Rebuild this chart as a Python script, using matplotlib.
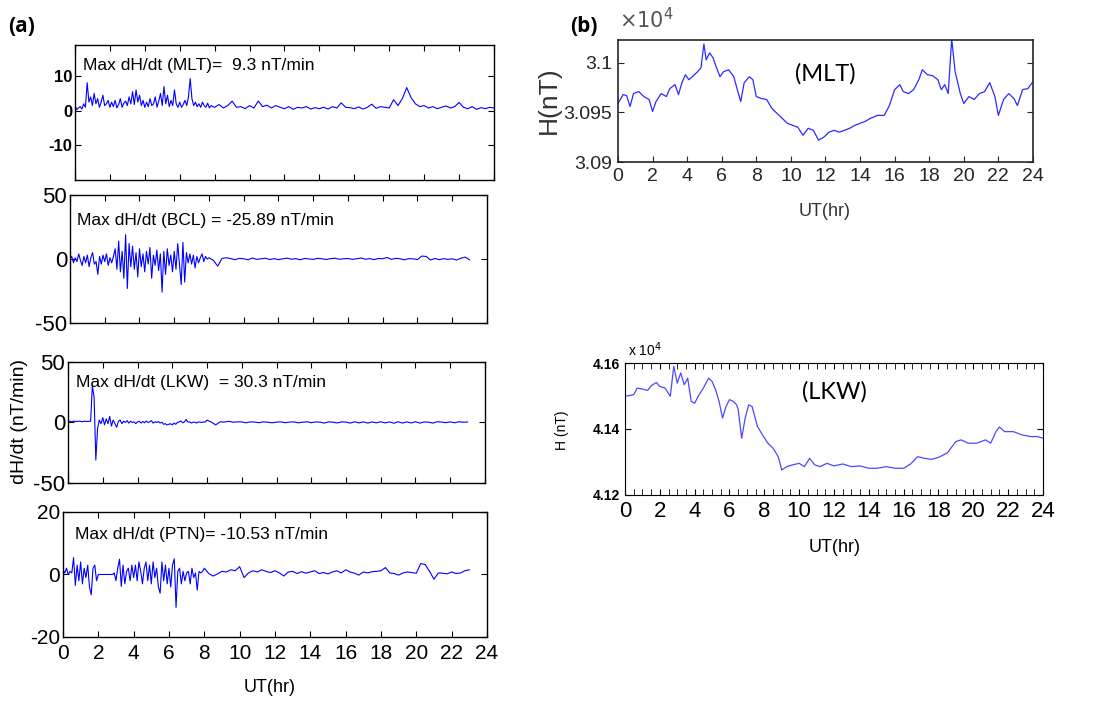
import numpy as np
import matplotlib
matplotlib.use("Agg")
import matplotlib.pyplot as plt
from matplotlib.ticker import FixedLocator, MultipleLocator

plt.rcParams["font.family"] = ["Liberation Sans", "DejaVu Sans"]
plt.rcParams["axes.unicode_minus"] = False

# time grids (hours): 0.1 h through the active part, 0.25 h after 8 UT
t_fine = np.round(np.arange(0, 8, 0.1), 2)
t_tail24 = np.arange(8, 24.01, 0.25)
t_tail23 = np.arange(8, 23.01, 0.25)

# (a) dH/dt, nT/min
mlt_dhdt = [1.5, 0.3, 0.8, 1.2, 0.5, 2.0, 1.0, 8.1, 2.5, 4.0,
            1.5, 5.0, 2.0, 3.5, 1.0, 2.5, 4.5, 1.5, 2.0, 3.0,
            1.0, 2.5, 1.2, 3.0, 0.8, 1.8, 3.5, 1.0, 2.2, 2.8,
            1.5, 4.0, 2.0, 5.5, 1.8, 6.0, 2.5, 4.5, 1.5, 3.0,
            1.0, 2.5, 1.2, 3.5, 1.5, 2.0, 4.0, 1.0, 2.8, 5.0,
            1.5, 7.0, 2.0, 4.5, 1.2, 3.0, 1.5, 6.0, 2.0, 1.0,
            2.5, 1.0, 1.8, 3.0, 1.5, 4.0, 9.3, 3.5, 1.5, 2.5,
            1.2, 2.0, 1.0, 2.5, 1.5, 1.0, 2.2, 0.8, 1.5, 1.2,
            1.0, 1.8, 0.8, 1.5, 2.8, 1.0, 1.2, 0.6,
            1.5, 0.8, 2.8, 1.2, 1.6, 0.8, 1.5, 1.0,
            0.6, 1.2, 0.4, 1.0, 0.8, 1.2, 0.5, 0.9,
            0.6, 1.0, 0.5, 1.2, 0.8, 2.3, 1.0, 0.9,
            0.6, 1.1, 0.5, 1.0, 1.9, 0.7, 1.2, 1.0,
            0.8, 3.2, 1.5, 3.5, 6.7, 3.8, 2.0, 1.2,
            1.5, 0.8, 1.2, 0.6, 1.0, 1.4, 0.8, 1.2,
            2.4, 1.0, 0.6, 1.2, 0.4, 0.9, 0.6, 1.0,
            0.8]

bcl_dhdt = [0, 2, -3, 1, -2, 4, -1, -5, 2, -3,
            3, -6, 1, 5, -4, -2, -12, 2, -4, 3,
            -2, 4, -5, 1, -3, 2, 8, -8, 14, -10,
            6, -15, 19, -23, 12, -6, 10, -8, 5, -14,
            8, -6, 4, -10, 6, -4, 9, -15, 3, -5,
            7, -9, 4, -25.89, 6, -12, 8, -5, 3, -10,
            6, -8, 12, -4, -20, 13, -18, 5, -3, 4,
            -4, 3, -7, 2, -3, 1, 4, -2, 2, 0,
            1, -1, -5.6, 0.5, 1, 0.3, -0.5, 0.5,
            0.2, -0.6, 0.8, -0.3, 0.2, 0.6, -0.4, 0.3,
            -0.5, 0.2, 0.7, -0.2, 0.3, -0.6, 0.4, 0.1,
            -0.3, 0.5, 0.2, -0.4, 0.3, 0.6, -0.2, 0.2,
            0.4, -0.3, 0.2, 0.8, -0.2, 0.3, -0.5, 0.4,
            0.2, 1.2, -0.3, 0.5, 0.2, -0.6, 0.3, 0.1,
            -0.4, 2.3, 2.0, -0.8, 0.4, -0.5, 0.3, -0.3,
            0.2, -0.8, 0.6, 1.5,
            -0.6]

lkw_dhdt = [1, 1, 0.5, 1, 1, 0.8, 1, 1, 0.5, 1,
            1, 0.8, 1, 1, 30.3, 21, -31, -5, 2, -1,
            4, -2, 3, -1, 5, -3, 2, -1, -4, 1,
            2, -1, 1, 0, 1.5, -0.5, 1, 0, 0.5, -1,
            0.5, 1, -0.5, 0.8, -0.3, 1.2, 0, 0.5, 1.5, -0.5,
            0.5, 0, 0.8, -0.5, 0.2, -1.5, -1, -2, -1.5, -1,
            -2, -0.5, -1.5, 0, 0.5, 1.2, -0.3, 0.5, 2.5, 0.3,
            0.5, -0.5, 0.3, 0.2, -0.5, 0.5, 0.2, 0, 0.5, 0.3,
            2, 0.3, -2, 0.5, 0.3, 1, 0.2, 0.5,
            0.5, -0.3, 0.5, 0.3, -0.2, 0.5, 0.2, -0.3,
            0.3, 0.5, -0.2, 0.3, 0.5, -0.3, 0.2, 0.6,
            -0.2, 0.4, 0.3, -0.5, 0.5, 0.2, -0.4, 0.5,
            0.3, -0.5, 0.6, -0.4, 0.5, -0.5, 0.4, -0.3,
            0.6, -0.4, 0.5, -0.6, 0.6, -0.5, 0.5, -0.4,
            0.6, -0.5, 0.4, 0.2, -0.5, 0.6, 0.3, -0.2,
            0.5, -0.3, 0.6, 0.2,
            0.4]

ptn_dhdt = [1.5, 0.5, 2, 0, 1, 0.5, 5.4, -3.5, 3, -2,
            4, -3, 2, -1, 3, -4, -6.5, 2, 3, -2,
            0, 0, 0, 0, 0, 0, 0, 0, 0, 0.5,
            -2, 2, 4.9, -3.8, 3, -3, 1, 2, -2, 3,
            -1, 3, -2, 4, 1, -3, 2, 4, -2, 3,
            -3, 4, -1, 2, -4, -6, 4, -2, 3, -3,
            2, -4, 3, 5, -10.53, 1, 2, -3, 1, -2,
            0.5, 1, -3, 2, -1, 0.5, -5, 1, 0.5, 1,
            2, 0.3, -0.5, 0.2, 1, 0.8, 1.5, 1.2,
            2.5, -1, 0.5, 1.2, 0.8, 1.5, 1.0, 0.6,
            1.2, 0.5, -0.5, 0.8, 1.0, 0.3, 0.9, 0.4,
            0.8, 1.2, 0.3, 0.6, 0.2, 0.8, 1.2, 0.5,
            1.5, 0.8, 0.4, -0.2, 0.8, 0.5, 0.9, 1.0,
            1.2, 2.2, 0.5, 0.3, -0.2, 0.5, 0.8, 0.6,
            0.4, 3.5, 3.2, 1.0, -1.5, 0.5, 0.4, 0.2,
            0.8, 0.3, 0.5, 1.2,
            1.5]

# (b) H component, nT
mlt_h_t = [0, 0.3, 0.5, 0.7, 0.9, 1.2, 1.5, 1.8, 2.0, 2.2, 2.5, 2.8, 3.0, 3.3,
           3.5, 3.7, 3.9, 4.1, 4.3, 4.6, 4.8, 4.97, 5.1, 5.3, 5.5, 5.7, 5.9,
           6.1, 6.4, 6.7, 6.9, 7.1, 7.3, 7.6, 7.8, 8.0, 8.3, 8.6, 8.9, 9.2,
           9.5, 9.8, 10.1, 10.4, 10.7, 11.0, 11.3, 11.6, 11.9, 12.2, 12.5,
           12.8, 13.1, 13.4, 13.7, 14.0, 14.3, 14.6, 15.0, 15.4, 15.7, 16.0,
           16.3, 16.5, 16.8, 17.1, 17.4, 17.6, 17.9, 18.2, 18.5, 18.7, 18.9,
           19.1, 19.3, 19.5, 19.8, 20.0, 20.3, 20.6, 20.9, 21.2, 21.5, 21.8,
           22.0, 22.3, 22.6, 22.9, 23.1, 23.4, 23.7, 24.0]
mlt_h = [30959, 30968, 30967, 30956, 30969, 30971, 30966, 30963, 30951,
         30961, 30969, 30966, 30974, 30978, 30968, 30980, 30988, 30983,
         30986, 30991, 30995, 31019, 31003, 31010, 31005, 30995, 30986,
         30991, 30993, 30986, 30973, 30961, 30980, 30986, 30983, 30966,
         30964, 30963, 30954, 30949, 30944, 30939, 30937, 30935, 30927,
         30934, 30932, 30922, 30925, 30930, 30932, 30930, 30932, 30934,
         30937, 30939, 30941, 30944, 30947, 30947, 30957, 30973, 30978,
         30971, 30969, 30973, 30983, 30993, 30988, 30987, 30983, 30973,
         30978, 30969, 31024, 30991, 30969, 30959, 30966, 30963, 30969,
         30971, 30980, 30966, 30947, 30963, 30969, 30964, 30957, 30973,
         30974, 30981]

lkw_h_t = [0, 0.5, 0.7, 1.0, 1.3, 1.5, 1.8, 2.0, 2.3, 2.6, 2.8, 3.0, 3.2,
           3.4, 3.6, 3.8, 4.0, 4.2, 4.5, 4.8, 5.0, 5.2, 5.4, 5.6, 5.8, 6.0,
           6.2, 6.4, 6.5, 6.7, 6.9, 7.1, 7.3, 7.6, 7.9, 8.2, 8.5, 8.8, 9.0,
           9.3, 9.6, 10.0, 10.3, 10.6, 10.9, 11.2, 11.6, 12.0, 12.5, 13.0,
           13.5, 14.0, 14.5, 15.0, 15.5, 16.0, 16.4, 16.8, 17.2, 17.6, 18.0,
           18.5, 19.0, 19.3, 19.7, 20.2, 20.7, 21.0, 21.3, 21.5, 21.8, 22.3,
           22.8, 23.3, 23.7, 24.0]
lkw_h = [41499, 41504, 41524, 41521, 41517, 41531, 41541, 41529, 41524,
         41499, 41590, 41539, 41570, 41534, 41554, 41484, 41478, 41499,
         41524, 41554, 41544, 41519, 41484, 41433, 41468, 41489, 41484,
         41474, 41459, 41372, 41433, 41473, 41468, 41408, 41382, 41357,
         41342, 41316, 41276, 41286, 41291, 41296, 41286, 41311, 41291,
         41286, 41296, 41288, 41294, 41286, 41288, 41281, 41281, 41286,
         41281, 41281, 41294, 41316, 41311, 41308, 41314, 41327, 41362,
         41367, 41357, 41357, 41367, 41357, 41392, 41406, 41392, 41392,
         41382, 41377, 41377, 41372]

blue = "#0000ff"
fig = plt.figure(figsize=(10.99, 7.02), dpi=100)

# ---- panel (a) ----
a_boxes = [[0.0682, 0.7436, 0.3813, 0.1923],
           [0.0637, 0.5399, 0.3794, 0.1823],
           [0.0619, 0.3120, 0.3794, 0.1724],
           [0.0573, 0.0926, 0.3858, 0.1781]]
a_series = [(np.concatenate([t_fine, t_tail24]), mlt_dhdt),
            (np.concatenate([t_fine, t_tail23]), bcl_dhdt),
            (np.concatenate([t_fine, t_tail23]), lkw_dhdt),
            (np.concatenate([t_fine, t_tail23]), ptn_dhdt)]
a_ylims = [(-20, 19), (-50, 50), (-50, 50), (-20, 20)]
a_yticks = [[-10, 0, 10], [-50, 0, 50], [-50, 0, 50], [-20, 0, 20]]
a_ytick_fs = [12, 16, 16, 15]
a_texts = ["Max dH/dt (MLT)=  9.3 nT/min", "Max dH/dt (BCL) = -25.89 nT/min",
           "Max dH/dt (LKW)  = 30.3 nT/min", "Max dH/dt (PTN)= -10.53 nT/min"]
a_text_pos = [(0.02, 0.85), (0.017, 0.80), (0.02, 0.83), (0.028, 0.82)]

for i in range(4):
    ax = fig.add_axes(a_boxes[i])
    t, v = a_series[i]
    ax.plot(t, v, color=blue, lw=0.8)
    ax.set_xlim(0, 24)
    ax.set_ylim(*a_ylims[i])
    ax.xaxis.set_major_locator(MultipleLocator(2))
    ax.yaxis.set_major_locator(FixedLocator(a_yticks[i]))
    ax.tick_params(direction="in", top=True, right=True, length=4, width=0.8,
                   labelsize=a_ytick_fs[i], pad=2)
    if i < 3:
        ax.tick_params(labelbottom=False)
    else:
        ax.tick_params(axis="x", labelsize=15, pad=5)
    if i == 0:
        for lab in ax.get_yticklabels():
            lab.set_fontweight("bold")
    for s in ax.spines.values():
        s.set_linewidth(1.0)
    ax.text(*a_text_pos[i], a_texts[i], transform=ax.transAxes, fontsize=12.5,
            va="center", ha="left")

fig.text(20 / 1099, 1 - 421 / 702, "dH/dt (nT/min)", rotation=90, fontsize=14,
         ha="center", va="center")
fig.text(270 / 1099, 1 - 688 / 702, "UT(hr)", fontsize=13, ha="center", va="center")
fig.text(8 / 1099, 1 - 26 / 702, "(a)", fontsize=15, fontweight="bold",
         family="Open Sans", ha="left", va="center")
fig.text(570 / 1099, 1 - 26 / 702, "(b)", fontsize=15, fontweight="bold",
         family="Open Sans", ha="left", va="center")

# ---- panel (b) MLT ----
grey = "#262626"
bx1 = fig.add_axes([0.5623, 0.7692, 0.3776, 0.1738])
bx1.plot(mlt_h_t, mlt_h, color="#2b2bff", lw=0.9)
bx1.set_xlim(0, 24)
bx1.set_ylim(30900, 31023)
bx1.xaxis.set_major_locator(MultipleLocator(2))
bx1.set_yticks([30900, 30950, 31000])
bx1.set_yticklabels(["3.09", "3.095", "3.1"])
bx1.tick_params(direction="in", right=True, length=4, labelsize=14, colors=grey,
                labelcolor=grey, pad=4)
for s in bx1.spines.values():
    s.set_color(grey)
    s.set_linewidth(1.2)
bx1.text(0.5, 0.72, "(MLT)", transform=bx1.transAxes, fontsize=17, family="Lato",
         ha="center", va="center")
fig.text(619 / 1099, 1 - 20 / 702, r"$\times10^{4}$", fontsize=15, color="#555555",
         ha="left", va="center")
fig.text(549 / 1099, 1 - 100 / 702, "H(nT)", rotation=90, fontsize=19, color="#333333",
         ha="center", va="center")
fig.text(825 / 1099, 1 - 212 / 702, "UT(hr)", fontsize=13, color="#333333",
         ha="center", va="center")

# ---- panel (b) LKW ----
bx2 = fig.add_axes([0.5687, 0.2949, 0.3803, 0.1880])
bx2.plot(lkw_h_t, lkw_h, color="#4a4aff", lw=0.9)
bx2.set_xlim(0, 24)
bx2.set_ylim(41200, 41600)
bx2.xaxis.set_major_locator(MultipleLocator(2))
bx2.xaxis.set_minor_locator(MultipleLocator(0.5))
bx2.set_yticks([41200, 41400, 41600])
bx2.set_yticklabels(["4.12", "4.14", "4.16"])
bx2.tick_params(direction="in", top=True, right=True, length=4, which="both")
bx2.tick_params(axis="y", labelsize=10)
bx2.tick_params(axis="x", labelsize=16, pad=4)
for lab in bx2.get_yticklabels():
    lab.set_fontweight("bold")
bx2.text(0.5, 0.78, "(LKW)", transform=bx2.transAxes, fontsize=17, family="Lato",
         ha="center", va="center")
fig.text(628 / 1099, 1 - 350 / 702, r"x 10$^4$", fontsize=10, ha="left", va="center")
fig.text(562 / 1099, 1 - 430 / 702, "H (nT)", rotation=90, fontsize=10,
         ha="center", va="center")
fig.text(835 / 1099, 1 - 548 / 702, "UT(hr)", fontsize=13, ha="center", va="center")

fig.savefig("out.png", dpi=100)
